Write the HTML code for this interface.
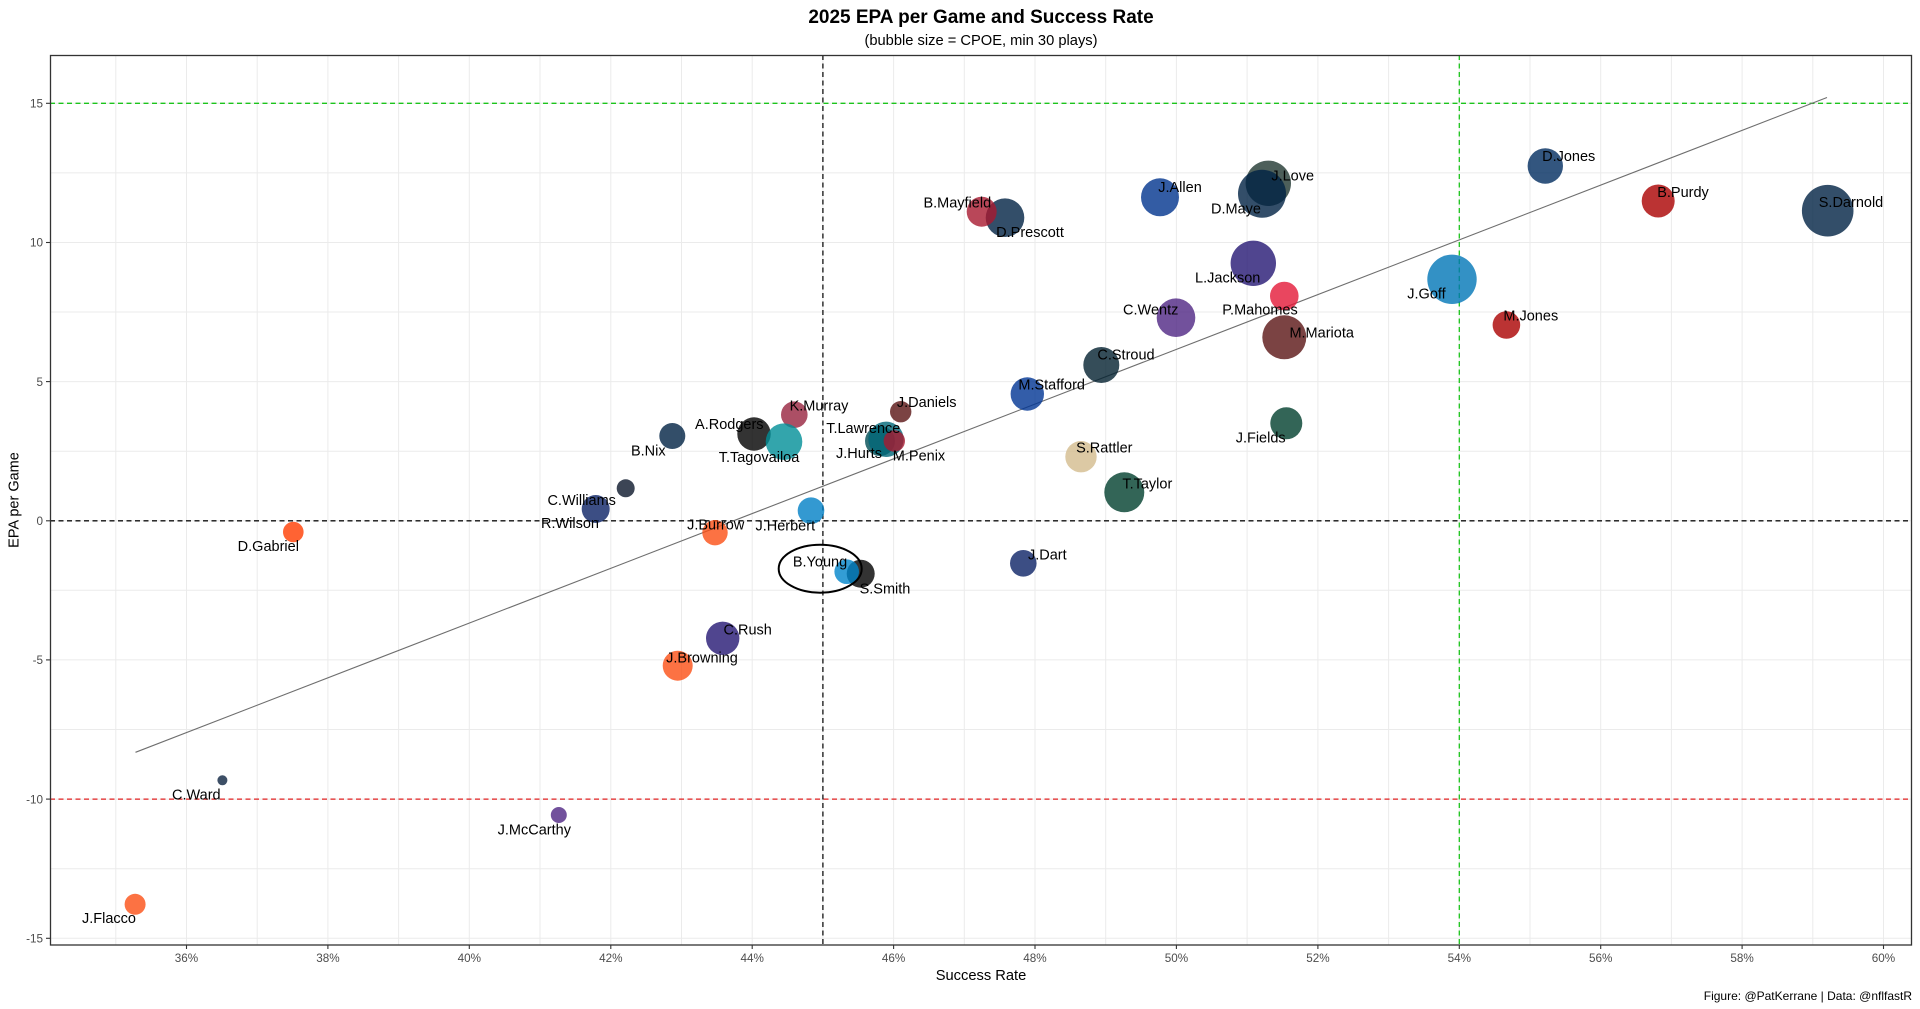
<!DOCTYPE html>
<html>
<head>
<meta charset="utf-8">
<style>
html,body{margin:0;padding:0;background:#fff;}
svg{display:block;}
text{font-family:"Liberation Sans",Arial,sans-serif;}
</style>
</head>
<body>
<svg width="1920" height="1009" viewBox="0 0 1920 1009" xmlns="http://www.w3.org/2000/svg">
<rect x="0" y="0" width="1920" height="1009" fill="#fff"/>
<!-- title -->
<text x="981" y="23" font-size="19" font-weight="bold" text-anchor="middle" fill="#000">2025 EPA per Game and Success Rate</text>
<text x="981" y="45" font-size="14.7" text-anchor="middle" fill="#000">(bubble size = CPOE, min 30 plays)</text>

<!-- grid -->
<g stroke="#ebebeb" stroke-width="1">
<line x1="115.8" y1="55" x2="115.8" y2="945"/>
<line x1="186.5" y1="55" x2="186.5" y2="945"/>
<line x1="257.2" y1="55" x2="257.2" y2="945"/>
<line x1="327.9" y1="55" x2="327.9" y2="945"/>
<line x1="398.6" y1="55" x2="398.6" y2="945"/>
<line x1="469.3" y1="55" x2="469.3" y2="945"/>
<line x1="540.0" y1="55" x2="540.0" y2="945"/>
<line x1="610.8" y1="55" x2="610.8" y2="945"/>
<line x1="681.5" y1="55" x2="681.5" y2="945"/>
<line x1="752.2" y1="55" x2="752.2" y2="945"/>
<line x1="822.9" y1="55" x2="822.9" y2="945"/>
<line x1="893.6" y1="55" x2="893.6" y2="945"/>
<line x1="964.3" y1="55" x2="964.3" y2="945"/>
<line x1="1035.0" y1="55" x2="1035.0" y2="945"/>
<line x1="1105.7" y1="55" x2="1105.7" y2="945"/>
<line x1="1176.4" y1="55" x2="1176.4" y2="945"/>
<line x1="1247.1" y1="55" x2="1247.1" y2="945"/>
<line x1="1317.9" y1="55" x2="1317.9" y2="945"/>
<line x1="1388.6" y1="55" x2="1388.6" y2="945"/>
<line x1="1459.3" y1="55" x2="1459.3" y2="945"/>
<line x1="1530.0" y1="55" x2="1530.0" y2="945"/>
<line x1="1600.7" y1="55" x2="1600.7" y2="945"/>
<line x1="1671.4" y1="55" x2="1671.4" y2="945"/>
<line x1="1742.1" y1="55" x2="1742.1" y2="945"/>
<line x1="1812.8" y1="55" x2="1812.8" y2="945"/>
<line x1="1883.5" y1="55" x2="1883.5" y2="945"/>
<line x1="50" y1="103.3" x2="1912" y2="103.3"/>
<line x1="50" y1="172.9" x2="1912" y2="172.9"/>
<line x1="50" y1="242.5" x2="1912" y2="242.5"/>
<line x1="50" y1="312.0" x2="1912" y2="312.0"/>
<line x1="50" y1="381.6" x2="1912" y2="381.6"/>
<line x1="50" y1="451.2" x2="1912" y2="451.2"/>
<line x1="50" y1="520.8" x2="1912" y2="520.8"/>
<line x1="50" y1="590.3" x2="1912" y2="590.3"/>
<line x1="50" y1="659.9" x2="1912" y2="659.9"/>
<line x1="50" y1="729.5" x2="1912" y2="729.5"/>
<line x1="50" y1="799.1" x2="1912" y2="799.1"/>
<line x1="50" y1="868.7" x2="1912" y2="868.7"/>
<line x1="50" y1="938.3" x2="1912" y2="938.3"/>
</g>

<!-- reference lines -->
<g stroke-width="1.3" stroke-dasharray="5,3.5" fill="none">
<line x1="50" y1="103.3" x2="1912" y2="103.3" stroke="#1cc41c"/>
<line x1="50" y1="799.1" x2="1912" y2="799.1" stroke="#e02020"/>
<line x1="50" y1="520.8" x2="1912" y2="520.8" stroke="#111"/>
<line x1="822.9" y1="55" x2="822.9" y2="945" stroke="#111"/>
<line x1="1459.3" y1="55" x2="1459.3" y2="945" stroke="#1cc41c"/>
</g>

<!-- regression line -->
<line x1="135.5" y1="752.3" x2="1827" y2="97.5" stroke="#6e6e6e" stroke-width="1.1"/>

<!-- bubbles -->
<g fill-opacity="0.8">
<circle cx="135.1" cy="904.3" r="10.5" fill="#FB4F14"/>
<circle cx="222.4" cy="780.3" r="5" fill="#0C2340"/>
<circle cx="558.8" cy="815" r="8" fill="#4F2683"/>
<circle cx="293.3" cy="532" r="10.3" fill="#FF3C00"/>
<circle cx="595.7" cy="509" r="14" fill="#0B2265"/>
<circle cx="625.7" cy="488.3" r="9" fill="#0B162A"/>
<circle cx="672.3" cy="436" r="13" fill="#002244"/>
<circle cx="754" cy="434" r="16.7" fill="#000000"/>
<circle cx="794.3" cy="414.7" r="13.3" fill="#97233F"/>
<circle cx="784" cy="441.7" r="18.3" fill="#008E97"/>
<circle cx="715" cy="532.7" r="12.7" fill="#FB4F14"/>
<circle cx="811" cy="510.7" r="13.3" fill="#0080C6"/>
<circle cx="880" cy="441" r="15" fill="#004C54"/>
<circle cx="886" cy="439.3" r="17.7" fill="#006778"/>
<circle cx="894.3" cy="441" r="10.7" fill="#A71930"/>
<circle cx="900.7" cy="411.7" r="10.7" fill="#5A1414"/>
<circle cx="860.7" cy="573.7" r="14" fill="#000000"/>
<circle cx="846.7" cy="571.7" r="12.3" fill="#0085CA"/>
<circle cx="722.7" cy="638.3" r="16.7" fill="#241773"/>
<circle cx="677.7" cy="665.7" r="15" fill="#FB4F14"/>
<circle cx="1023.3" cy="563.3" r="13.3" fill="#0B2265"/>
<circle cx="1027.3" cy="394" r="16.7" fill="#003594"/>
<circle cx="1081" cy="456.7" r="15.7" fill="#D3BC8D"/>
<circle cx="1124.3" cy="492.3" r="20" fill="#003F2D"/>
<circle cx="1101.3" cy="365" r="18" fill="#03202F"/>
<circle cx="1286.3" cy="423.3" r="16" fill="#003F2D"/>
<circle cx="1284.3" cy="337.3" r="22" fill="#5A1414"/>
<circle cx="1284.3" cy="296" r="14.3" fill="#E31837"/>
<circle cx="1176" cy="317.7" r="19.3" fill="#4F2683"/>
<circle cx="1253.3" cy="263.3" r="22.7" fill="#241773"/>
<circle cx="1160" cy="197.3" r="19" fill="#00338D"/>
<circle cx="1268.3" cy="183.3" r="22.7" fill="#203731"/>
<circle cx="1262" cy="193.7" r="24" fill="#002244"/>
<circle cx="1005" cy="217.7" r="19.3" fill="#002244"/>
<circle cx="981.7" cy="211.7" r="15" fill="#A71930"/>
<circle cx="1545.3" cy="166" r="17.7" fill="#002C5F"/>
<circle cx="1658.2" cy="201" r="16.5" fill="#AA0000"/>
<circle cx="1827.7" cy="210.7" r="25.8" fill="#002244"/>
<circle cx="1452" cy="279.3" r="24.7" fill="#0076B6"/>
<circle cx="1506.4" cy="325" r="13.8" fill="#AA0000"/>
</g>

<!-- labels -->
<g font-size="14.5" fill="#000" text-anchor="middle">
<text x="109" y="923.1">J.Flacco</text>
<text x="196.3" y="799.4">C.Ward</text>
<text x="534.3" y="834.4">J.McCarthy</text>
<text x="268.3" y="551.1">D.Gabriel</text>
<text x="570" y="528.1">R.Wilson</text>
<text x="581.7" y="505.1">C.Williams</text>
<text x="648.3" y="455.4">B.Nix</text>
<text x="729.3" y="429.1">A.Rodgers</text>
<text x="819" y="410.4">K.Murray</text>
<text x="759" y="462.1">T.Tagovailoa</text>
<text x="715.7" y="529.4">J.Burrow</text>
<text x="785.3" y="530.4">J.Herbert</text>
<text x="863.3" y="433.1">T.Lawrence</text>
<text x="859" y="458.1">J.Hurts</text>
<text x="919" y="460.4">M.Penix</text>
<text x="926.7" y="407.1">J.Daniels</text>
<text x="820" y="566.7">B.Young</text>
<text x="885" y="593.7">S.Smith</text>
<text x="747.7" y="634.4">C.Rush</text>
<text x="702" y="662.7">J.Browning</text>
<text x="1047.3" y="559.4">J.Dart</text>
<text x="1051.7" y="389.4">M.Stafford</text>
<text x="1104.3" y="452.4">S.Rattler</text>
<text x="1147.3" y="488.7">T.Taylor</text>
<text x="1126" y="359.7">C.Stroud</text>
<text x="1260.7" y="442.7">J.Fields</text>
<text x="1321.7" y="337.4">M.Mariota</text>
<text x="1260" y="314.4">P.Mahomes</text>
<text x="1150.7" y="314.7">C.Wentz</text>
<text x="1227.7" y="282.7">L.Jackson</text>
<text x="1180" y="192.1">J.Allen</text>
<text x="1292.7" y="180.4">J.Love</text>
<text x="1236" y="213.7">D.Maye</text>
<text x="957.3" y="207.7">B.Mayfield</text>
<text x="1030" y="237.1">D.Prescott</text>
<text x="1568.7" y="161.1">D.Jones</text>
<text x="1683" y="197.1">B.Purdy</text>
<text x="1851" y="207.1">S.Darnold</text>
<text x="1426.5" y="298.7">J.Goff</text>
<text x="1530.8" y="320.4">M.Jones</text>
</g>

<!-- ellipse highlight -->
<ellipse cx="820.2" cy="568.7" rx="41.5" ry="24" fill="none" stroke="#000" stroke-width="2"/>

<!-- panel border -->
<rect x="50.5" y="55.5" width="1861" height="889.5" fill="none" stroke="#333" stroke-width="1.3"/>

<!-- y ticks -->
<g stroke="#333" stroke-width="1.1">
<line x1="46" y1="103.3" x2="50" y2="103.3"/>
<line x1="46" y1="242.5" x2="50" y2="242.5"/>
<line x1="46" y1="381.6" x2="50" y2="381.6"/>
<line x1="46" y1="520.8" x2="50" y2="520.8"/>
<line x1="46" y1="659.9" x2="50" y2="659.9"/>
<line x1="46" y1="799.1" x2="50" y2="799.1"/>
<line x1="46" y1="938.3" x2="50" y2="938.3"/>
</g>
<g font-size="11.7" fill="#4d4d4d" text-anchor="end">
<text x="43" y="107.5">15</text>
<text x="43" y="246.7">10</text>
<text x="43" y="385.8">5</text>
<text x="43" y="525">0</text>
<text x="43" y="664.1">-5</text>
<text x="43" y="803.3">-10</text>
<text x="43" y="942.5">-15</text>
</g>

<!-- x ticks -->
<g stroke="#333" stroke-width="1.1">
<line x1="186.5" y1="945" x2="186.5" y2="949"/>
<line x1="327.9" y1="945" x2="327.9" y2="949"/>
<line x1="469.3" y1="945" x2="469.3" y2="949"/>
<line x1="610.8" y1="945" x2="610.8" y2="949"/>
<line x1="752.2" y1="945" x2="752.2" y2="949"/>
<line x1="893.6" y1="945" x2="893.6" y2="949"/>
<line x1="1035.0" y1="945" x2="1035.0" y2="949"/>
<line x1="1176.4" y1="945" x2="1176.4" y2="949"/>
<line x1="1317.9" y1="945" x2="1317.9" y2="949"/>
<line x1="1459.3" y1="945" x2="1459.3" y2="949"/>
<line x1="1600.7" y1="945" x2="1600.7" y2="949"/>
<line x1="1742.1" y1="945" x2="1742.1" y2="949"/>
<line x1="1883.5" y1="945" x2="1883.5" y2="949"/>
</g>
<g font-size="11.7" fill="#4d4d4d" text-anchor="middle">
<text x="186.5" y="962">36%</text>
<text x="327.9" y="962">38%</text>
<text x="469.3" y="962">40%</text>
<text x="610.8" y="962">42%</text>
<text x="752.2" y="962">44%</text>
<text x="893.6" y="962">46%</text>
<text x="1035.0" y="962">48%</text>
<text x="1176.4" y="962">50%</text>
<text x="1317.9" y="962">52%</text>
<text x="1459.3" y="962">54%</text>
<text x="1600.7" y="962">56%</text>
<text x="1742.1" y="962">58%</text>
<text x="1883.5" y="962">60%</text>
</g>

<!-- axis titles -->
<text x="981" y="980" font-size="14.7" text-anchor="middle" fill="#000">Success Rate</text>
<text transform="translate(18.5,500) rotate(-90)" font-size="14.5" text-anchor="middle" fill="#000">EPA per Game</text>

<!-- caption -->
<text x="1912" y="1000" font-size="12" text-anchor="end" fill="#000">Figure: @PatKerrane | Data: @nflfastR</text>
</svg>
</body>
</html>
